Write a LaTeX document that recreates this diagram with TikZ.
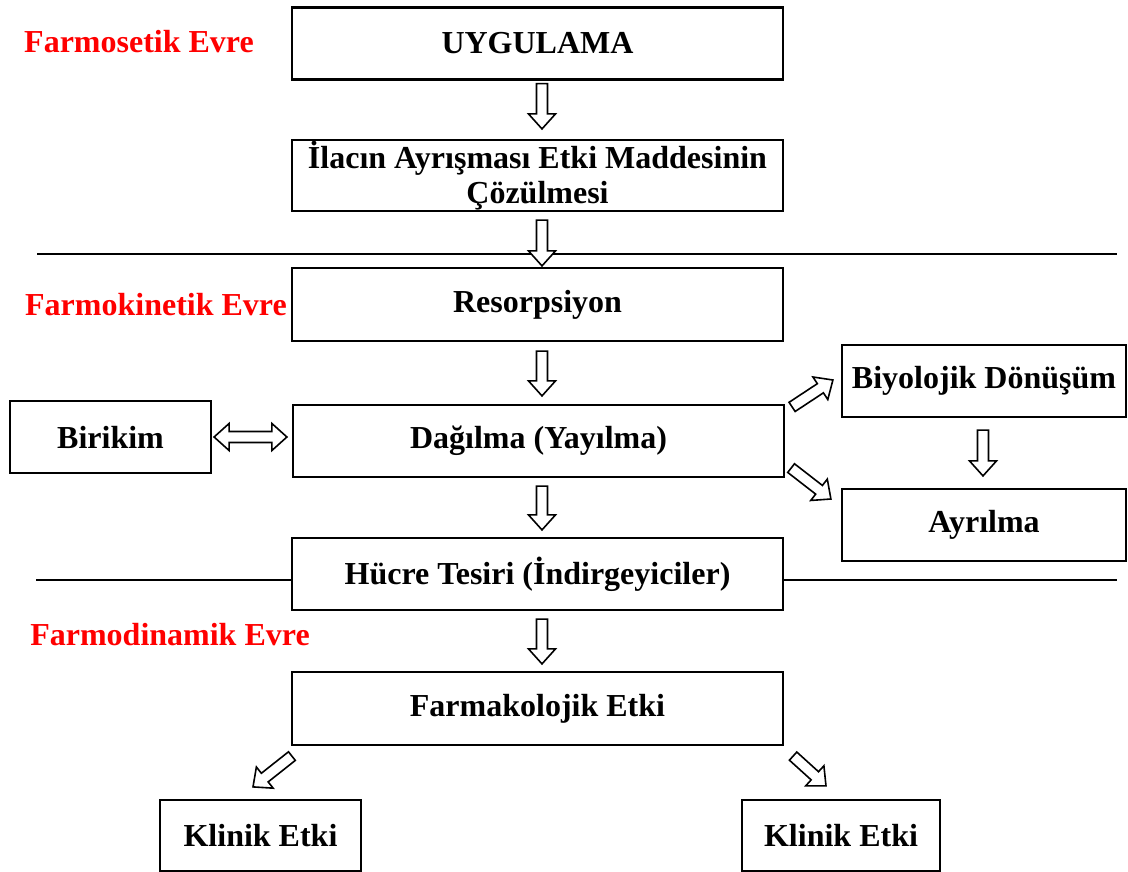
\documentclass[tikz,border=0pt]{standalone}
\usepackage{fontspec}
\setmainfont{Liberation Serif}
\usetikzlibrary{calc}

% block arrow dimensions (pt): shaft half width, head half width, head length
\def\arrshaft{5.5}
\def\arrhead{13.5}
\def\arrlen{15}

% hollow block arrow from #1 to #2 (tip at #2)
\newcommand\blockarrow[2]{%
  \draw[barrow] let \p1=(#1), \p2=(#2),
      \n1={atan2(\y2-\y1,\x2-\x1)},
      \n2={veclen(\x2-\x1,\y2-\y1)-\arrlen} in
    ($(\p1)+(\n1+90:\arrshaft)$)
    -- ($(\p1)+(\n1:\n2)+(\n1+90:\arrshaft)$)
    -- ($(\p1)+(\n1:\n2)+(\n1+90:\arrhead)$)
    -- (\p2)
    -- ($(\p1)+(\n1:\n2)+(\n1-90:\arrhead)$)
    -- ($(\p1)+(\n1:\n2)+(\n1-90:\arrshaft)$)
    -- ($(\p1)+(\n1-90:\arrshaft)$) -- cycle;}

% hollow double block arrow between #1 and #2
\newcommand\doubleblockarrow[2]{%
  \draw[barrow] let \p1=(#1), \p2=(#2),
      \n1={atan2(\y2-\y1,\x2-\x1)},
      \n2={veclen(\x2-\x1,\y2-\y1)-\arrlen} in
    (\p1)
    -- ($(\p1)+(\n1:\arrlen)+(\n1+90:\arrhead)$)
    -- ($(\p1)+(\n1:\arrlen)+(\n1+90:\arrshaft)$)
    -- ($(\p1)+(\n1:\n2)+(\n1+90:\arrshaft)$)
    -- ($(\p1)+(\n1:\n2)+(\n1+90:\arrhead)$)
    -- (\p2)
    -- ($(\p1)+(\n1:\n2)+(\n1-90:\arrhead)$)
    -- ($(\p1)+(\n1:\n2)+(\n1-90:\arrshaft)$)
    -- ($(\p1)+(\n1:\arrlen)+(\n1-90:\arrshaft)$)
    -- ($(\p1)+(\n1:\arrlen)+(\n1-90:\arrhead)$) -- cycle;}

\tikzset{
  box/.style={draw, fill=white, line width=2.2pt, inner sep=0pt,
    font=\fontsize{32}{35}\selectfont\bfseries, align=center},
  widebox/.style={box, minimum width=491pt, minimum height=72pt},
  sidebox/.style={box, minimum width=201pt, minimum height=72pt},
  phase/.style={text=red, font=\fontsize{32}{35}\selectfont\bfseries, inner sep=0pt},
  barrow/.style={draw, fill=white, line width=1.6pt, line join=miter},
  divider/.style={line width=2pt}
}

\begin{document}
\begin{tikzpicture}[x=1pt, y=1pt]
\useasboundingbox (0,0) rectangle (1128,-872);

% phase dividers
\draw[divider] (37,-254) coordinate (d1a) -- (1117,-254) coordinate (d1b);
\draw[divider] (36,-580) coordinate (d2a) -- (1117,-580) coordinate (d2b);

% phase labels
\node[phase] (p1) at (139,-42) {Farmosetik Evre};
\node[phase] (p2) at (156,-305) {Farmokinetik Evre};
\node[phase] (p3) at (170,-635) {Farmodinamik Evre};

% boxes
\node[widebox] (uyg) at (537.5,-43.5) {UYGULAMA};
\node[widebox, minimum height=71pt] (ilac) at (537.5,-175.5) {İlacın Ayrışması Etki Maddesinin\\Çözülmesi};
\node[widebox, minimum height=73pt] (res) at (537.5,-304.5) {Resorpsiyon};
\node[widebox] (dag) at (538.5,-441) {Dağılma (Yayılma)};
\node[sidebox] (bir) at (110.5,-437) {Birikim};
\node[box, minimum width=284pt, minimum height=72pt] (bio) at (984,-381) {Biyolojik Dönüşüm};
\node[box, minimum width=284pt, minimum height=72pt] (ayr) at (984,-525) {Ayrılma};
\node[widebox] (huc) at (537.5,-574) {Hücre Tesiri (İndirgeyiciler)};
\node[widebox, minimum height=73pt] (far) at (537.5,-708.5) {Farmakolojik Etki};
\node[sidebox, minimum height=71pt] (kl1) at (260.5,-835.5) {Klinik Etki};
\node[box, minimum width=198pt, minimum height=71pt] (kl2) at (841,-835.5) {Klinik Etki};

% vertical flow arrows
\blockarrow{$(uyg.south)+(4.5,-3)$}{$(ilac.north)+(4.5,10)$}
\blockarrow{$(ilac.south)+(4.5,-8)$}{$(res.north)+(4.5,1)$}
\blockarrow{$(res.south)+(4.5,-9)$}{$(dag.north)+(3.5,8)$}
\blockarrow{$(dag.south)+(3.5,-8)$}{$(huc.north)+(4.5,7)$}
\blockarrow{$(huc.south)+(4.5,-8)$}{$(far.north)+(4.5,7)$}
\blockarrow{$(bio.south)+(-1,-12)$}{$(ayr.north)+(-1,12)$}

% side arrows
\doubleblockarrow{$(bir.east)+(2,0)$}{$(dag.west)+(-5,4)$}
\blockarrow{$(dag.north east)+(7,-3)$}{$(bio.west)+(-8,1)$}
\blockarrow{$(dag.south east)+(6,10)$}{$(ayr.west)+(-10,26)$}
\blockarrow{$(far.south west)+(1,-10)$}{$(kl1.north)+(-7.5,12)$}
\blockarrow{$(far.south east)+(9,-10)$}{$(kl2.north)+(-15,13)$}
\end{tikzpicture}
\end{document}
